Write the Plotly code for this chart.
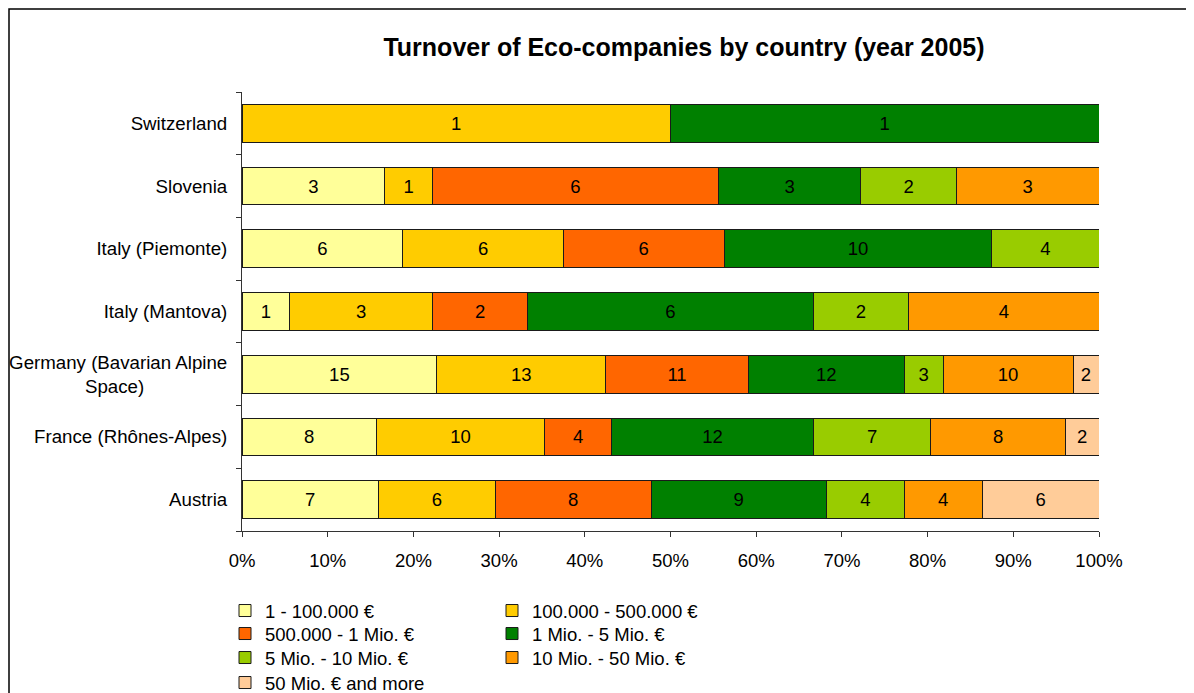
import plotly.graph_objects as go

countries = ["Austria", "France (Rhônes-Alpes)",
             "Germany (Bavarian Alpine<br>Space)" + "\u00a0" * 16,
             "Italy (Mantova)", "Italy (Piemonte)", "Slovenia", "Switzerland"]

series_names = ["1 - 100.000 €", "100.000 - 500.000 €", "500.000 - 1 Mio. €",
                "1 Mio. - 5 Mio. €", "5 Mio. - 10 Mio. €", "10 Mio. - 50 Mio. €",
                "50 Mio. € and more"]

s1 = [7, 8, 15, 1, 6, 3, None]
s2 = [6, 10, 13, 3, 6, 1, 1]
s3 = [8, 4, 11, 2, 6, 6, None]
s4 = [9, 12, 12, 6, 10, 3, 1]
s5 = [4, 7, 3, 2, 4, 2, None]
s6 = [4, 8, 10, 4, None, 3, None]
s7 = [6, 2, 2, None, None, None, None]
series_values = [s1, s2, s3, s4, s5, s6, s7]

colors = ["#FFFF99", "#FFCC00", "#FF6600", "#008000", "#99CC00", "#FF9900", "#FFCC99"]

OFF = 8  # page body margin
W, H = 1186, 693
# target page-pixel positions
PL, PR, PT, PB = 242, 1099, 92, 531
ML = PL - OFF
MR = W - (PR - OFF)
MT = PT - OFF
MB = H - (PB - OFF)
FONT = "Arial, Liberation Sans, sans-serif"

# legend placement (page pixel positions)
row_y = [611, 611, 634, 634, 658, 658, 683]
col_x = [225, 492, 225, 492, 225, 492, 225]

fig = go.Figure()
legend_layouts = {}
for i, (name, vals, col) in enumerate(zip(series_names, series_values, colors)):
    lname = "legend" if i == 0 else f"legend{i+1}"
    fig.add_trace(go.Bar(
        y=countries, x=vals, name=name, orientation="h",
        marker=dict(color=col, line=dict(color="#1a1a1a", width=1)),
        text=[("" if v is None else str(v)) for v in vals],
        textposition="inside", insidetextanchor="middle", textangle=0,
        constraintext="none",
        insidetextfont=dict(family=FONT, size=18.5, color="black"),
        legend=lname, showlegend=True,
    ))
    legend_layouts[lname] = dict(
        xref="container", yref="container",
        x=(col_x[i] - OFF) / W, y=1 - (row_y[i] - OFF) / H,
        xanchor="left", yanchor="middle",
        orientation="v", bgcolor="rgba(0,0,0,0)",
        font=dict(family=FONT, size=18.5, color="black"),
        itemwidth=30,
    )

# outer frame: left and top edges only (the rest lies outside the picture)
pw = W - ML - MR
ph = H - MT - MB
fx0 = (1 - ML) / pw
fx1 = (W + 40 - ML) / pw
fy1 = (H - MB - 1) / ph
fy0 = (H - MB - (H + 40)) / ph
frame_path = f"M {fx0},{fy0} L {fx0},{fy1} L {fx1},{fy1}"

fig.update_layout(
    width=W, height=H,
    barmode="stack", barnorm="percent", bargap=0.4,
    margin=dict(l=ML, r=MR, t=MT, b=MB, autoexpand=False),
    paper_bgcolor="white", plot_bgcolor="white",
    font=dict(family=FONT, size=18.5, color="black"),
    title=dict(text="<b>Turnover of Eco-companies by country (year 2005)</b>",
               x=(684 - OFF) / W, xanchor="center", xref="container",
               y=1 - (47 - OFF) / H, yanchor="middle", yref="container",
               font=dict(family=FONT, size=25, color="black")),
    xaxis=dict(range=[0, 100], dtick=10, ticksuffix="%", showgrid=False,
               zeroline=False, showline=True, linecolor="#333", linewidth=1,
               ticks="outside", ticklen=5, tickcolor="#333",
               ticklabelstandoff=8,
               tickfont=dict(family=FONT, size=18.5, color="black")),
    yaxis=dict(categoryorder="array", categoryarray=countries,
               showgrid=False, zeroline=False, showline=True,
               linecolor="#333", linewidth=1, ticks="outside", ticklen=5,
               tickcolor="#333", tickson="boundaries", ticklabelstandoff=10,
               tickfont=dict(family=FONT, size=18.7, color="black")),
    shapes=[dict(type="path", xref="paper", yref="paper", path=frame_path,
                 line=dict(color="black", width=1.5), fillcolor="rgba(0,0,0,0)",
                 layer="below")],
    **legend_layouts,
)

fig.write_html("out.html")
